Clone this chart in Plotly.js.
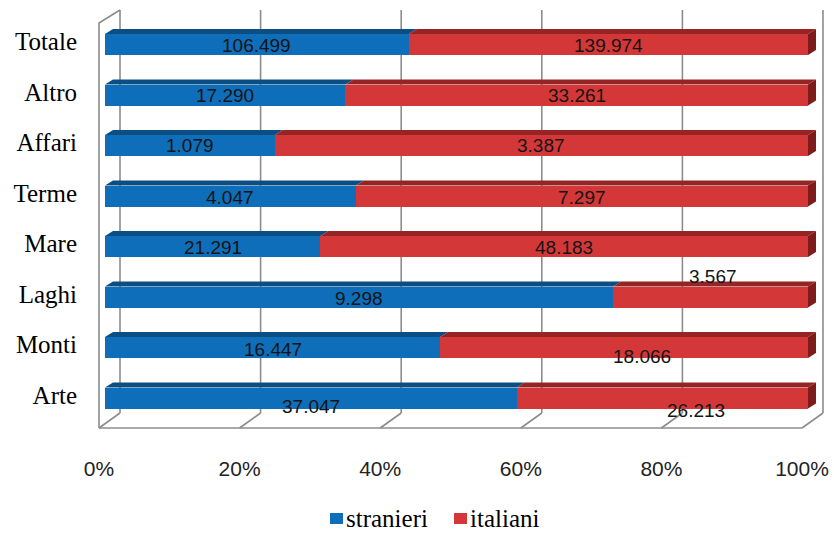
<!DOCTYPE html>
<html>
<head>
<meta charset="utf-8">
<script src="https://cdn.plot.ly/plotly-3.0.1.min.js"></script>
<style>
  html, body { margin: 0; padding: 0; background: #ffffff; }
  #chart { width: 834px; height: 534px; }
</style>
</head>
<body>
<div id="chart"></div>
<script>
// Arrivi per tipologia di località: stranieri / italiani
const categories = ['Arte', 'Monti', 'Laghi', 'Mare', 'Terme', 'Affari', 'Altro', 'Totale'];
const stranieri  = [37047, 16447, 9298, 21291, 4047, 1079, 17290, 106499];
const italiani   = [26213, 18066, 3567, 48183, 7297, 3387, 33261, 139974];
const seriesNames = ['stranieri', 'italiani'];
const pctTicks   = [0, 20, 40, 60, 80, 100];
const pctLabels  = ['0%', '20%', '40%', '60%', '80%', '100%'];

// colours
const BLUE = '#0F6EB9', BLUE_TOP = '#0A4E83';
const RED = '#D43737', RED_TOP = '#962424', RED_SIDE = '#7E1B1B';
const WALL = '#8C8C8C';
const SERIF = 'Liberation Serif';
const SANS = 'Liberation Sans';

// plot frame (pixels)
const W = 834, H = 534;
const M = { l: 90, r: 4, t: 5, b: 99, autoexpand: false };
const plotW = W - M.l - M.r, plotH = H - M.t - M.b;
const x0px = 105, x100px = 808;          // 0% and 100% of the bar fronts
const PX = (x100px - x0px) / 100;        // pixels per percent
const PY = 50.5;                          // pixels per category
const topCatPx = 44.5;                    // centre of the last category
const xRange = [-(x0px - M.l) / PX, 100 + (M.l + plotW - x100px) / PX];
const yTop = (categories.length - 1) + (topCatPx - M.t) / PY;
const yRange = [yTop - plotH / PY, yTop];
const dx = p => p / PX, dy = p => p / PY;
// page pixel -> paper fraction
const paperX = px => (px - M.l) / plotW;
const paperY = py => (M.t + plotH - py) / plotH;

// depth of bars and of the box
const BAR_W = 0.416, HALF = BAR_W / 2;
const barDX = dx(8), barDY = dy(5);
const boxBackDX = dx(15), boxFrontDX = dx(-6);
const floorFront = -dy(30), floorBack = -dy(15);
const wallTopBack = (categories.length - 1) + dy(topCatPx - 10);
const wallTopFront = (categories.length - 1) + dy(topCatPx - 23);

const idx = categories.map((_, i) => i);
const share = stranieri.map((s, i) => 100 * s / (s + italiani[i]));

function fmt(n) {
  return String(n).replace(/\B(?=(\d{3})+(?!\d))/g, '.');
}
function path(pts) {
  return 'M' + pts.map(p => p[0].toFixed(4) + ',' + p[1].toFixed(4)).join('L') + 'Z';
}

const shapes = [];
// back wall grid lines and floor diagonals
pctTicks.forEach(v => {
  shapes.push({ type: 'line', layer: 'below', xref: 'x', yref: 'y',
    x0: v + boxBackDX, x1: v + boxBackDX, y0: floorBack, y1: wallTopBack,
    line: { color: WALL, width: 1.6 } });
  shapes.push({ type: 'line', layer: 'below', xref: 'x', yref: 'y',
    x0: v + boxBackDX, x1: v + boxFrontDX, y0: floorBack, y1: floorFront,
    line: { color: WALL, width: 1.6 } });
});
// floor front edge and left wall
shapes.push({ type: 'line', layer: 'below', xref: 'x', yref: 'y',
  x0: boxFrontDX, x1: 100 + boxFrontDX, y0: floorFront, y1: floorFront,
  line: { color: WALL, width: 1.6 } });
shapes.push({ type: 'path', layer: 'below', xref: 'x', yref: 'y',
  path: 'M' + boxFrontDX + ',' + floorFront + 'L' + boxFrontDX + ',' + wallTopFront +
        'L' + boxBackDX + ',' + wallTopBack,
  line: { color: WALL, width: 1.6 } });

// top faces and right side faces of the bars
idx.forEach(i => {
  const yT = i + HALF, yB = i - HALF, s = share[i];
  shapes.push({ type: 'path', layer: 'above', xref: 'x', yref: 'y', line: { width: 0 },
    fillcolor: BLUE_TOP,
    path: path([[0, yT], [s, yT], [s + barDX, yT + barDY], [barDX, yT + barDY]]) });
  shapes.push({ type: 'path', layer: 'above', xref: 'x', yref: 'y', line: { width: 0 },
    fillcolor: RED_TOP,
    path: path([[s, yT], [100, yT], [100 + barDX, yT + barDY], [s + barDX, yT + barDY]]) });
  shapes.push({ type: 'path', layer: 'above', xref: 'x', yref: 'y', line: { width: 0 },
    fillcolor: RED_SIDE,
    path: path([[100, yB], [100, yT], [100 + barDX, yT + barDY], [100 + barDX, yB + barDY]]) });
});

// value labels (pixel nudges for a few crowded ones)
const shiftS = [[0, -8], [0, -2], [0, -1], [0, -1], [0, -1], [0, 0], [0, 0], [0, -1]];
const shiftI = [[34, -12], [18, -9], [2, 21], [0, -1], [0, -1], [0, 0], [0, 0], [0, -1]];
const labelFont = { family: SANS, size: 19, color: '#141414' };
const annotations = [];
idx.forEach(i => {
  annotations.push({ x: share[i] / 2, y: i, xref: 'x', yref: 'y', text: fmt(stranieri[i]),
    showarrow: false, font: labelFont, xshift: shiftS[i][0], yshift: shiftS[i][1] });
  annotations.push({ x: (share[i] + 100) / 2, y: i, xref: 'x', yref: 'y', text: fmt(italiani[i]),
    showarrow: false, font: labelFont, xshift: shiftI[i][0], yshift: shiftI[i][1] });
});

// legend below the chart: swatch + name for each series
const legendItems = [
  { name: seriesNames[0], color: BLUE, sw: 330, tx: 345 },
  { name: seriesNames[1], color: RED, sw: 454, tx: 469 }
];
const legendMid = 518, SW = 13;
legendItems.forEach(it => {
  shapes.push({ type: 'rect', xref: 'paper', yref: 'paper', line: { width: 0 },
    fillcolor: it.color,
    x0: paperX(it.sw), x1: paperX(it.sw + SW),
    y0: paperY(legendMid + 6), y1: paperY(legendMid - 5) });
  annotations.push({ xref: 'paper', yref: 'paper', x: paperX(it.tx), y: paperY(legendMid),
    xanchor: 'left', yanchor: 'middle', text: it.name, showarrow: false, borderpad: 0,
    font: { family: SERIF, size: 25, color: '#000' } });
});

const traces = [
  { type: 'bar', orientation: 'h', name: seriesNames[0], y: idx, x: stranieri,
    width: BAR_W, marker: { color: BLUE }, hoverinfo: 'skip' },
  { type: 'bar', orientation: 'h', name: seriesNames[1], y: idx, x: italiani,
    width: BAR_W, marker: { color: RED }, hoverinfo: 'skip' }
];

const layout = {
  width: W, height: H,
  margin: M,
  font: { family: SERIF, size: 24, color: '#000' },
  paper_bgcolor: '#ffffff', plot_bgcolor: 'rgba(0,0,0,0)',
  barmode: 'stack', barnorm: 'percent',
  showlegend: false,
  xaxis: {
    range: xRange, tickvals: pctTicks, ticktext: pctLabels,
    showgrid: false, zeroline: false, showline: false, ticks: '',
    ticklabelshift: -6, ticklabelstandoff: 19,
    tickfont: { family: SANS, size: 21, color: '#222' },
    fixedrange: true
  },
  yaxis: {
    range: yRange, tickvals: idx, ticktext: categories,
    showgrid: false, zeroline: false, showline: false, ticks: '',
    ticklabelstandoff: 12, ticklabelshift: -3,
    tickfont: { family: SERIF, size: 25, color: '#000' },
    fixedrange: true
  },
  shapes: shapes,
  annotations: annotations
};

Plotly.newPlot('chart', traces, layout, { displayModeBar: false, staticPlot: true });
</script>
</body>
</html>
